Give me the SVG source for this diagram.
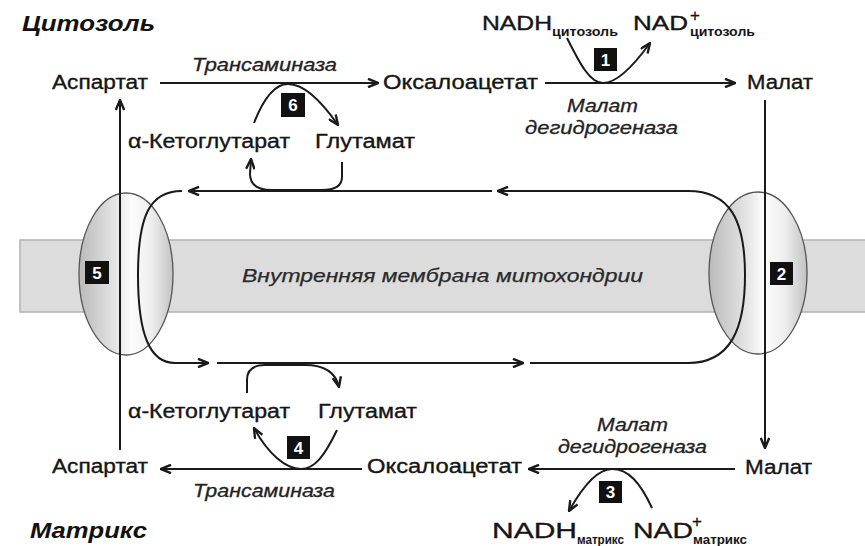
<svg xmlns="http://www.w3.org/2000/svg" width="865" height="546" viewBox="0 0 865 546">
  <defs>
    <marker id="arr" viewBox="0 0 12 10" refX="11" refY="5" markerWidth="12" markerHeight="10" markerUnits="userSpaceOnUse" orient="auto">
      <path d="M1,0.8 L11,5 L1,9.2" fill="none" stroke="#1a1a1a" stroke-width="2.4" stroke-linejoin="miter"/>
    </marker>
    <linearGradient id="oval" x1="0" y1="0" x2="1" y2="0">
      <stop offset="0" stop-color="#bababa"/>
      <stop offset="0.38" stop-color="#e4e4e4"/>
      <stop offset="0.56" stop-color="#fdfdfd"/>
      <stop offset="0.78" stop-color="#ededed"/>
      <stop offset="1" stop-color="#c2c2c2"/>
    </linearGradient>
    <style>
      .lbl { font-family: "Liberation Sans", Arial, sans-serif; font-size: 20px; fill: #151515; stroke: #151515; stroke-width: 0.35; }
      .big { font-size: 22px; }
      .enz { font-family: "Liberation Sans", Arial, sans-serif; font-size: 18px; font-style: italic; fill: #222; stroke: #222; stroke-width: 0.3; }
      .ttl { font-family: "Liberation Sans", Arial, sans-serif; font-size: 22px; font-style: italic; font-weight: bold; fill: #111; }
      .sub { font-family: "Liberation Sans", Arial, sans-serif; font-size: 12px; font-weight: bold; fill: #151515; }
      .sup { font-family: "Liberation Sans", Arial, sans-serif; font-size: 17px; fill: #151515; stroke: #151515; stroke-width: 0.3; }
      .num { font-family: "Liberation Sans", Arial, sans-serif; font-size: 17px; font-weight: bold; fill: #fff; text-anchor: middle; }
      .box { fill: #111; }
      .ln { fill: none; stroke: #1a1a1a; stroke-width: 2; }
      .ar { fill: none; stroke: #1a1a1a; stroke-width: 2; marker-end: url(#arr); }
      .mem { font-family: "Liberation Sans", Arial, sans-serif; font-size: 19px; font-style: italic; fill: #2a2a2a; stroke: #2a2a2a; stroke-width: 0.25; }
    </style>
  </defs>

  <rect width="865" height="546" fill="#ffffff"/>

  <!-- inner mitochondrial membrane band -->
  <g id="membrane">
    <rect x="20" y="240" width="850" height="72" fill="#dcdcdc" stroke="#b2b2b2" stroke-width="1.5"/>
    <text class="mem" x="242" y="282" textLength="401" lengthAdjust="spacingAndGlyphs">Внутренняя мембрана митохондрии</text>
  </g>

  <!-- transporters -->
  <g id="transporter5">
    <ellipse cx="126" cy="274" rx="47" ry="81" fill="url(#oval)" stroke="#555" stroke-width="1.3"/>
    <rect class="box" x="85" y="261" width="24" height="23"/>
    <text class="num" x="97" y="279">5</text>
  </g>
  <g id="transporter2">
    <ellipse cx="758" cy="273" rx="49" ry="81" fill="url(#oval)" stroke="#555" stroke-width="1.3"/>
    <rect class="box" x="770" y="262" width="23" height="23"/>
    <text class="num" x="781.5" y="280">2</text>
  </g>

  <!-- connectors -->
  <g id="connectors">
    <!-- cytosol reactions -->
    <path class="ar" d="M160,83 L378,83"/>
    <path class="ar" d="M545,83 L735,83"/>
    <path class="ar" d="M567,38 C580,64 590,83 603,83 C616,83 632,68 650,43"/>
    <path class="ar" d="M254,123 C263,100 274,84 288,84 C304,84 322,102 338,125"/>
    <path class="ar" d="M342,162 L342,177 Q342,190 322,190 L272,190 Q250,190 250,174 L251,159"/>

    <!-- transport across membrane -->
    <path class="ar" d="M765,100 L765,448"/>
    <path class="ar" d="M120,450 L120,100"/>

    <!-- exchange loops -->
    <path class="ar" d="M688,191 L498,191"/>
    <path class="ln" d="M688,191 C730,191 745,220 745,275 C745,330 730,363 688,363 L530,363"/>
    <path class="ar" d="M492,191 L189,191"/>
    <path class="ln" d="M182,191 C150,191 138,215 138,275 C138,335 150,363 175,363"/>
    <path class="ar" d="M175,363 L208,363"/>
    <path class="ar" d="M217,363 L523,363"/>

    <!-- matrix reactions -->
    <path class="ar" d="M735,469 L529,469"/>
    <path class="ar" d="M362,469 L161,469"/>
    <path class="ar" d="M652,508 C640,482 628,469 612,469 C597,469 583,486 569,511"/>
    <path class="ar" d="M337,430 C325,455 315,469 301,469 C286,469 268,454 254,428"/>
    <path class="ar" d="M247,393 L247,380 Q247,365 265,365 L305,365 Q334,365 339,387"/>
  </g>

  <!-- compartment titles -->
  <g id="title-cytosol"><text class="ttl" x="22" y="31" textLength="133" lengthAdjust="spacingAndGlyphs">Цитозоль</text></g>
  <g id="title-matrix"><text class="ttl" x="30" y="538" textLength="117" lengthAdjust="spacingAndGlyphs">Матрикс</text></g>

  <!-- cytosol metabolites -->
  <g id="asp-cyt"><text class="lbl" x="52" y="89" textLength="96" lengthAdjust="spacingAndGlyphs">Аспартат</text></g>
  <g id="oaa-cyt"><text class="lbl" x="383" y="89" textLength="155" lengthAdjust="spacingAndGlyphs">Оксалоацетат</text></g>
  <g id="mal-cyt"><text class="lbl" x="747" y="89" textLength="66" lengthAdjust="spacingAndGlyphs">Малат</text></g>
  <g id="akg-cyt"><text class="lbl" x="128" y="148" textLength="162" lengthAdjust="spacingAndGlyphs">α-Кетоглутарат</text></g>
  <g id="glu-cyt"><text class="lbl" x="315" y="148" textLength="100" lengthAdjust="spacingAndGlyphs">Глутамат</text></g>
  <g id="enz-transam-cyt"><text class="enz" x="192" y="71" textLength="145" lengthAdjust="spacingAndGlyphs">Трансаминаза</text></g>
  <g id="enz-mdh-cyt">
    <text class="enz" x="567" y="112" textLength="71" lengthAdjust="spacingAndGlyphs">Малат</text>
    <text class="enz" x="525" y="134" textLength="153" lengthAdjust="spacingAndGlyphs">дегидрогеназа</text>
  </g>
  <g id="nadh-cyt">
    <text class="lbl" x="482" y="30" textLength="70" lengthAdjust="spacingAndGlyphs">NADH</text>
    <text class="sub" x="552" y="36" textLength="66" lengthAdjust="spacingAndGlyphs">цитозоль</text>
  </g>
  <g id="nad-cyt">
    <text class="lbl" x="633" y="30" textLength="55" lengthAdjust="spacingAndGlyphs">NAD</text>
    <text class="sup" x="690" y="21">+</text>
    <text class="sub" x="690" y="36" textLength="65" lengthAdjust="spacingAndGlyphs">цитозоль</text>
  </g>
  <g id="step1">
    <rect class="box" x="594" y="48" width="23" height="23"/>
    <text class="num" x="605.5" y="66">1</text>
  </g>
  <g id="step6">
    <rect class="box" x="281" y="93" width="24" height="24"/>
    <text class="num" x="293" y="111">6</text>
  </g>

  <!-- matrix metabolites -->
  <g id="asp-mat"><text class="lbl" x="52" y="473" textLength="96" lengthAdjust="spacingAndGlyphs">Аспартат</text></g>
  <g id="oaa-mat"><text class="lbl" x="367" y="473" textLength="155" lengthAdjust="spacingAndGlyphs">Оксалоацетат</text></g>
  <g id="mal-mat"><text class="lbl" x="745" y="474" textLength="67" lengthAdjust="spacingAndGlyphs">Малат</text></g>
  <g id="akg-mat"><text class="lbl" x="128" y="418" textLength="162" lengthAdjust="spacingAndGlyphs">α-Кетоглутарат</text></g>
  <g id="glu-mat"><text class="lbl" x="318" y="418" textLength="99" lengthAdjust="spacingAndGlyphs">Глутамат</text></g>
  <g id="enz-transam-mat"><text class="enz" x="193" y="497" textLength="142" lengthAdjust="spacingAndGlyphs">Трансаминаза</text></g>
  <g id="enz-mdh-mat">
    <text class="enz" x="597" y="431" textLength="71" lengthAdjust="spacingAndGlyphs">Малат</text>
    <text class="enz" x="558" y="453" textLength="149" lengthAdjust="spacingAndGlyphs">дегидрогеназа</text>
  </g>
  <g id="nadh-mat">
    <text class="lbl big" x="492" y="538" textLength="85" lengthAdjust="spacingAndGlyphs">NADH</text>
    <text class="sub" x="577" y="544" textLength="47" lengthAdjust="spacingAndGlyphs">матрикс</text>
  </g>
  <g id="nad-mat">
    <text class="lbl big" x="633" y="538" textLength="60" lengthAdjust="spacingAndGlyphs">NAD</text>
    <text class="sup" x="692" y="527">+</text>
    <text class="sub" x="693" y="544" textLength="54" lengthAdjust="spacingAndGlyphs">матрикс</text>
  </g>
  <g id="step4">
    <rect class="box" x="287" y="436" width="23" height="23"/>
    <text class="num" x="298.5" y="454">4</text>
  </g>
  <g id="step3">
    <rect class="box" x="599" y="481" width="23" height="22"/>
    <text class="num" x="610.5" y="498">3</text>
  </g>
</svg>
